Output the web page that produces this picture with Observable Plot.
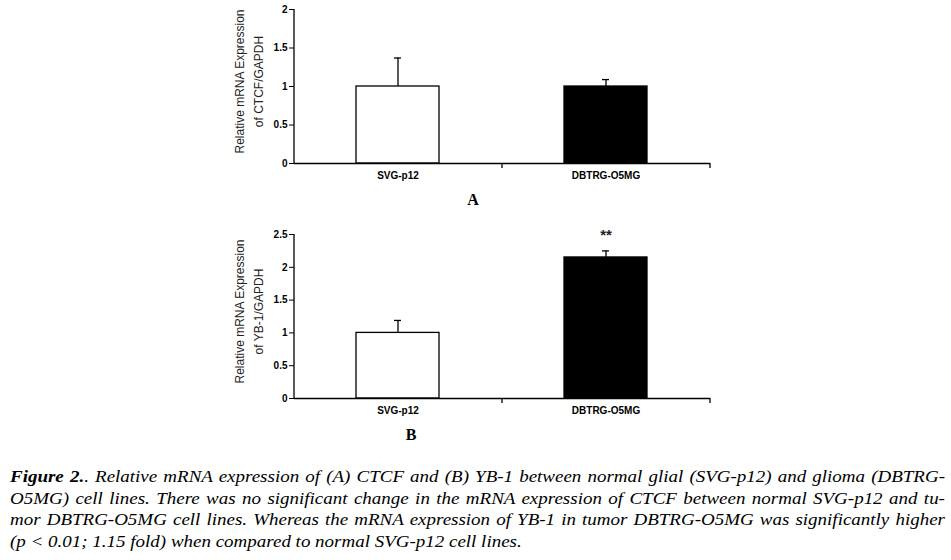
<!DOCTYPE html>
<html>
<head>
<meta charset="utf-8">
<script src="https://cdn.jsdelivr.net/npm/d3@7"></script>
<script src="https://cdn.jsdelivr.net/npm/@observablehq/plot@0.6"></script>
<style>
  html, body { margin: 0; padding: 0; background: #fff; }
  #page { position: relative; width: 951px; height: 560px; overflow: hidden; }
  .panel { position: absolute; left: 0; }
  .tag { position: absolute; font-family: "Liberation Serif", "Times New Roman", serif; font-weight: bold; font-size: 16px; transform: translate(-50%, -50%); }
  #caption { position: absolute; left: 10px; top: 466px; width: 813px; transform: scaleX(1.15); transform-origin: 0 0; font-family: "Liberation Serif", "Times New Roman", serif; font-style: italic; font-size: 16.5px; line-height: 21.7px; color: #000; }
  #caption div { text-align: justify; text-align-last: justify; white-space: nowrap; }
  #caption div.last { text-align-last: left; }
</style>
</head>
<body>
<div id="page">
  <div id="panelA" class="panel" style="top:0px"></div>
  <div class="tag" style="left:473px; top:200px">A</div>
  <div id="panelB" class="panel" style="top:225px"></div>
  <div class="tag" style="left:411px; top:435px">B</div>
  <div id="caption">
    <div><b>Figure 2.</b>. Relative mRNA expression of (A) CTCF and (B) YB-1 between normal glial (SVG-p12) and glioma (DBTRG-</div>
    <div>O5MG) cell lines. There was no significant change in the mRNA expression of CTCF between normal SVG-p12 and tu-</div>
    <div>mor DBTRG-O5MG cell lines. Whereas the mRNA expression of YB-1 in tumor DBTRG-O5MG was significantly higher</div>
    <div class="last">(p &lt; 0.01; 1.15 fold) when compared to normal SVG-p12 cell lines.</div>
  </div>
</div>
<script>
// ---- data ----
const cellLines = ["SVG-p12", "DBTRG-O5MG"];
const ctcfMean = [1.0, 1.0];
const ctcfErr = [1.37, 1.09];   // top of error bar
const yb1Mean = [1.0, 2.15];
const yb1Err = [1.19, 2.25];    // top of error bar
const yTicksA = [0, 0.5, 1, 1.5, 2];
const yTicksB = [0, 0.5, 1, 1.5, 2, 2.5];
const yLabelA = "Relative mRNA Expression\nof CTCF/GAPDH";
const yLabelB = "Relative mRNA Expression\nof YB-1/GAPDH";
const signifB = ["", "**"];

const W = 951, ML = 294, MR = 241;
const halfStep = (W - ML - MR) / cellLines.length / 2;

function panel(means, errs, ticks, label, marks, height) {
  const data = cellLines.map((c, i) => ({cell: c, mean: means[i], err: errs[i], sig: marks ? marks[i] : ""}));
  const ymax = ticks[ticks.length - 1];
  return Plot.plot({
    width: W, height,
    marginLeft: ML, marginRight: MR, marginTop: 9, marginBottom: 22,
    style: {fontFamily: "Liberation Sans, Arial, sans-serif", background: "white", color: "black", overflow: "visible"},
    x: {domain: cellLines, paddingInner: 0.6, paddingOuter: 0.3, label: null},
    y: {domain: [0, ymax], label: null},
    color: {domain: cellLines, range: ["white", "black"]},
    marks: [
      Plot.barY(data, {x: "cell", y: "mean", fill: "cell", stroke: "black", strokeWidth: 1.3}),
      Plot.ruleX(data, {x: "cell", y1: "mean", y2: "err", stroke: "black", strokeWidth: 1.3}),
      Plot.tickY(data, {x: "cell", y: "err", stroke: "black", strokeWidth: 1.3, insetLeft: 38, insetRight: 38}),
      Plot.text(data, {x: "cell", y: "err", text: "sig", dy: -16, fontSize: 15, fontWeight: "bold", fill: "#222"}),
      Plot.ruleY([0], {stroke: "black", strokeWidth: 1.3}),
      Plot.ruleX([cellLines[0]], {x: d => d, y1: () => 0, y2: () => ymax, dx: -halfStep, stroke: "black", strokeWidth: 1.3}),
      Plot.ruleX(cellLines, {x: d => d, y1: () => 0, y2: () => 0, insetBottom: -5, dx: halfStep, stroke: "black", strokeWidth: 1.3}),
      Plot.axisY({ticks, tickFormat: d => String(d), tickSize: 5, tickPadding: 2, fontSize: 10, fontWeight: "bold", label: null}),
      Plot.axisX({tickSize: 0, tickPadding: 8, fontSize: 10, fontWeight: "bold", label: null}),
      Plot.text([label], {frameAnchor: "left", text: d => d, rotate: -90, dx: -47.5, dy: -5, fontSize: 12, lineHeight: 1.6, textAnchor: "middle", fill: "#222"})
    ]
  });
}

document.getElementById("panelA").appendChild(panel(ctcfMean, ctcfErr, yTicksA, yLabelA, null, 185));
document.getElementById("panelB").appendChild(panel(yb1Mean, yb1Err, yTicksB, yLabelB, signifB, 195));
</script>
</body>
</html>
